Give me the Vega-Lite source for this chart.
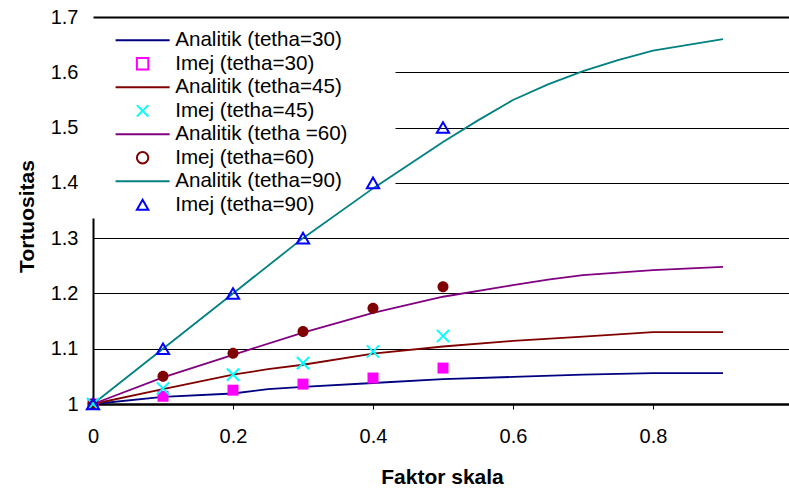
{
  "$schema": "https://vega.github.io/schema/vega-lite/v6.json",
  "width": 696,
  "height": 387,
  "autosize": {"type": "none"},
  "padding": {"left": 93, "top": 17, "right": 0, "bottom": 84},
  "background": "white",
  "config": {"view": {"stroke": null}, "font": "Liberation Sans"},
  "data": {
    "values": [
      {"series": "Analitik (tetha=30)", "x": 0, "y": 1},
      {"series": "Analitik (tetha=30)", "x": 0.1, "y": 1.013},
      {"series": "Analitik (tetha=30)", "x": 0.2, "y": 1.019},
      {"series": "Analitik (tetha=30)", "x": 0.25, "y": 1.027},
      {"series": "Analitik (tetha=30)", "x": 0.3, "y": 1.031},
      {"series": "Analitik (tetha=30)", "x": 0.4, "y": 1.038},
      {"series": "Analitik (tetha=30)", "x": 0.5, "y": 1.045},
      {"series": "Analitik (tetha=30)", "x": 0.6, "y": 1.049},
      {"series": "Analitik (tetha=30)", "x": 0.7, "y": 1.053},
      {"series": "Analitik (tetha=30)", "x": 0.8, "y": 1.056},
      {"series": "Analitik (tetha=30)", "x": 0.9, "y": 1.056},
      {"series": "Analitik (tetha=45)", "x": 0, "y": 1},
      {"series": "Analitik (tetha=45)", "x": 0.1, "y": 1.027},
      {"series": "Analitik (tetha=45)", "x": 0.2, "y": 1.053},
      {"series": "Analitik (tetha=45)", "x": 0.25, "y": 1.063},
      {"series": "Analitik (tetha=45)", "x": 0.3, "y": 1.071},
      {"series": "Analitik (tetha=45)", "x": 0.4, "y": 1.091},
      {"series": "Analitik (tetha=45)", "x": 0.5, "y": 1.104},
      {"series": "Analitik (tetha=45)", "x": 0.6, "y": 1.114},
      {"series": "Analitik (tetha=45)", "x": 0.7, "y": 1.122},
      {"series": "Analitik (tetha=45)", "x": 0.8, "y": 1.13},
      {"series": "Analitik (tetha=45)", "x": 0.9, "y": 1.13},
      {"series": "Analitik (tetha =60)", "x": 0, "y": 1},
      {"series": "Analitik (tetha =60)", "x": 0.1, "y": 1.048},
      {"series": "Analitik (tetha =60)", "x": 0.2, "y": 1.089},
      {"series": "Analitik (tetha =60)", "x": 0.3, "y": 1.129},
      {"series": "Analitik (tetha =60)", "x": 0.4, "y": 1.165},
      {"series": "Analitik (tetha =60)", "x": 0.5, "y": 1.194},
      {"series": "Analitik (tetha =60)", "x": 0.6, "y": 1.215},
      {"series": "Analitik (tetha =60)", "x": 0.65, "y": 1.225},
      {"series": "Analitik (tetha =60)", "x": 0.7, "y": 1.233},
      {"series": "Analitik (tetha =60)", "x": 0.8, "y": 1.242},
      {"series": "Analitik (tetha =60)", "x": 0.9, "y": 1.248},
      {"series": "Analitik (tetha=90)", "x": 0, "y": 1},
      {"series": "Analitik (tetha=90)", "x": 0.1, "y": 1.1},
      {"series": "Analitik (tetha=90)", "x": 0.2, "y": 1.2},
      {"series": "Analitik (tetha=90)", "x": 0.3, "y": 1.3},
      {"series": "Analitik (tetha=90)", "x": 0.4, "y": 1.39},
      {"series": "Analitik (tetha=90)", "x": 0.5, "y": 1.474},
      {"series": "Analitik (tetha=90)", "x": 0.55, "y": 1.513},
      {"series": "Analitik (tetha=90)", "x": 0.6, "y": 1.55},
      {"series": "Analitik (tetha=90)", "x": 0.65, "y": 1.578},
      {"series": "Analitik (tetha=90)", "x": 0.7, "y": 1.602},
      {"series": "Analitik (tetha=90)", "x": 0.75, "y": 1.622},
      {"series": "Analitik (tetha=90)", "x": 0.8, "y": 1.639},
      {"series": "Analitik (tetha=90)", "x": 0.9, "y": 1.66},
      {"series": "Imej (tetha=30)", "x": 0, "y": 1},
      {"series": "Imej (tetha=30)", "x": 0.1, "y": 1.014},
      {"series": "Imej (tetha=30)", "x": 0.2, "y": 1.025},
      {"series": "Imej (tetha=30)", "x": 0.3, "y": 1.036},
      {"series": "Imej (tetha=30)", "x": 0.4, "y": 1.047},
      {"series": "Imej (tetha=30)", "x": 0.5, "y": 1.065},
      {"series": "Imej (tetha=45)", "x": 0, "y": 1},
      {"series": "Imej (tetha=45)", "x": 0.1, "y": 1.028},
      {"series": "Imej (tetha=45)", "x": 0.2, "y": 1.053},
      {"series": "Imej (tetha=45)", "x": 0.3, "y": 1.074},
      {"series": "Imej (tetha=45)", "x": 0.4, "y": 1.095},
      {"series": "Imej (tetha=45)", "x": 0.5, "y": 1.123},
      {"series": "Imej (tetha=60)", "x": 0, "y": 1},
      {"series": "Imej (tetha=60)", "x": 0.1, "y": 1.05},
      {"series": "Imej (tetha=60)", "x": 0.2, "y": 1.092},
      {"series": "Imej (tetha=60)", "x": 0.3, "y": 1.131},
      {"series": "Imej (tetha=60)", "x": 0.4, "y": 1.173},
      {"series": "Imej (tetha=60)", "x": 0.5, "y": 1.212},
      {"series": "Imej (tetha=90)", "x": 0, "y": 1},
      {"series": "Imej (tetha=90)", "x": 0.1, "y": 1.1},
      {"series": "Imej (tetha=90)", "x": 0.2, "y": 1.2},
      {"series": "Imej (tetha=90)", "x": 0.3, "y": 1.3},
      {"series": "Imej (tetha=90)", "x": 0.4, "y": 1.4},
      {"series": "Imej (tetha=90)", "x": 0.5, "y": 1.5}
    ]
  },
  "layer": [
    {
      "transform": [{"filter": {"field": "series", "oneOf": ["Analitik (tetha=30)", "Analitik (tetha=45)", "Analitik (tetha =60)", "Analitik (tetha=90)"]}}],
      "mark": {"type": "line", "strokeWidth": 1.8},
      "encoding": {
        "x": {
          "field": "x", "type": "quantitative",
          "scale": {"domain": [0, 0.9943], "nice": false, "zero": false},
          "axis": {
            "orient": "bottom",
            "values": [0, 0.2, 0.4, 0.6, 0.8],
            "format": "~g",
            "title": "Faktor skala",
            "titleFont": "Liberation Sans", "titleFontSize": 21, "titleFontWeight": "bold", "titleColor": "black",
            "titleX": 349, "titleY": 79, "titleBaseline": "alphabetic",
            "labelFont": "Liberation Sans", "labelFontSize": 20, "labelColor": "black", "labelPadding": 17,
            "labelFlush": false, "labelOverlap": false,
            "grid": false,
            "domain": true, "domainColor": "black", "domainWidth": 2.5,
            "ticks": true, "tickColor": "black", "tickWidth": 1, "tickSize": 5
          }
        },
        "y": {
          "field": "y", "type": "quantitative",
          "scale": {"domain": [1, 1.7], "nice": false, "zero": false},
          "axis": {
            "orient": "left",
            "values": [1, 1.1, 1.2, 1.3, 1.4, 1.5, 1.6, 1.7],
            "format": "~g",
            "title": "Tortuositas",
            "titleFont": "Liberation Sans", "titleFontSize": 21, "titleFontWeight": "bold", "titleColor": "black",
            "titleX": -60, "titleY": 199, "titleBaseline": "alphabetic",
            "labelFont": "Liberation Sans", "labelFontSize": 20, "labelColor": "black", "labelPadding": 15,
            "labelFlush": false, "labelOverlap": false,
            "ticks": false, "tickSize": 0, "domain": false,
            "grid": true, "gridColor": "black",
            "gridWidth": {"condition": {"test": "datum.value > 1.65", "value": 2}, "value": 1},
            "gridOpacity": {"condition": {"test": "datum.value > 1.35 && datum.value < 1.65", "value": 0}, "value": 1}
          }
        },
        "color": {
          "field": "series", "type": "nominal",
          "scale": {
            "domain": ["Analitik (tetha=30)", "Analitik (tetha=45)", "Analitik (tetha =60)", "Analitik (tetha=90)", "Imej (tetha=30)", "Imej (tetha=45)", "Imej (tetha=60)", "Imej (tetha=90)"],
            "range": ["#000080", "#800000", "#800080", "#008080", "#FF00FF", "#00FFFF", "#800000", "#0000FF"]
          },
          "legend": null
        }
      }
    },
    {
      "transform": [{"filter": {"field": "series", "oneOf": ["Imej (tetha=30)", "Imej (tetha=60)"]}}],
      "mark": {"type": "point", "filled": true, "size": 121, "opacity": 1},
      "encoding": {
        "x": {"field": "x", "type": "quantitative", "axis": null},
        "y": {"field": "y", "type": "quantitative", "axis": null},
        "color": {"field": "series", "type": "nominal", "legend": null},
        "shape": {
          "field": "series", "type": "nominal",
          "scale": {
            "domain": ["Analitik (tetha=30)", "Imej (tetha=30)", "Analitik (tetha=45)", "Imej (tetha=45)", "Analitik (tetha =60)", "Imej (tetha=60)", "Analitik (tetha=90)", "Imej (tetha=90)"],
            "range": ["M-4.74,0L4.74,0", "square", "M-4.74,0L4.74,0", "M-1,-1L1,1M-1,1L1,-1", "M-4.74,0L4.74,0", "M1,0A1,1 0 1,1 -1,0A1,1 0 1,1 1,0Z", "M-4.74,0L4.74,0", "triangle-up"]
          },
          "legend": {
            "title": null,
            "orient": "none",
            "legendX": 0,
            "legendY": 13,
            "padding": 0,
            "direction": "vertical",
            "symbolSize": 130,
            "symbolStrokeWidth": 2,
            "symbolOffset": 39.3,
            "labelOffset": 22.3,
            "labelFont": "Liberation Sans",
            "labelFontSize": 20.6,
            "labelColor": "black",
            "labelLimit": 400,
            "rowPadding": 2.5,
            "symbolOpacity": 1,
            "symbolFillColor": {"expr": "indexof(['Imej (tetha=30)', 'Imej (tetha=60)'], datum.value) >= 0 ? scale('color', datum.value) : 'transparent'"},
            "symbolStrokeColor": {"expr": "scale('color', datum.value)"}
          }
        }
      }
    },
    {
      "transform": [{"filter": {"field": "series", "oneOf": ["Imej (tetha=45)", "Imej (tetha=90)"]}}],
      "mark": {"type": "point", "filled": false, "size": 150, "strokeWidth": 2, "opacity": 1},
      "encoding": {
        "x": {
          "field": "x", "type": "quantitative",
          "axis": {
            "orient": "top",
            "values": [0],
            "offset": -201,
            "labels": false, "domain": false, "grid": false, "title": null,
            "ticks": true, "tickSize": -186, "tickColor": "black", "tickWidth": 2
          }
        },
        "y": {
          "field": "y", "type": "quantitative",
          "axis": {
            "orient": "right",
            "values": [1.4, 1.5, 1.6],
            "labels": false, "domain": false, "grid": false, "title": null,
            "ticks": true, "tickSize": -394, "tickColor": "black", "tickWidth": 1
          }
        },
        "color": {"field": "series", "type": "nominal", "legend": null},
        "shape": {
          "field": "series", "type": "nominal",
          "legend": {
            "title": null,
            "orient": "none",
            "legendX": 0,
            "legendY": 13,
            "padding": 0,
            "direction": "vertical",
            "symbolSize": 130,
            "symbolStrokeWidth": 2,
            "symbolOffset": 39.3,
            "labelOffset": 22.3,
            "labelFont": "Liberation Sans",
            "labelFontSize": 20.6,
            "labelColor": "black",
            "labelLimit": 400,
            "rowPadding": 2.5,
            "symbolOpacity": 1,
            "symbolFillColor": {"expr": "indexof(['Imej (tetha=30)', 'Imej (tetha=60)'], datum.value) >= 0 ? scale('color', datum.value) : 'transparent'"},
            "symbolStrokeColor": {"expr": "scale('color', datum.value)"}
          }
        }
      }
    }
  ]
}
